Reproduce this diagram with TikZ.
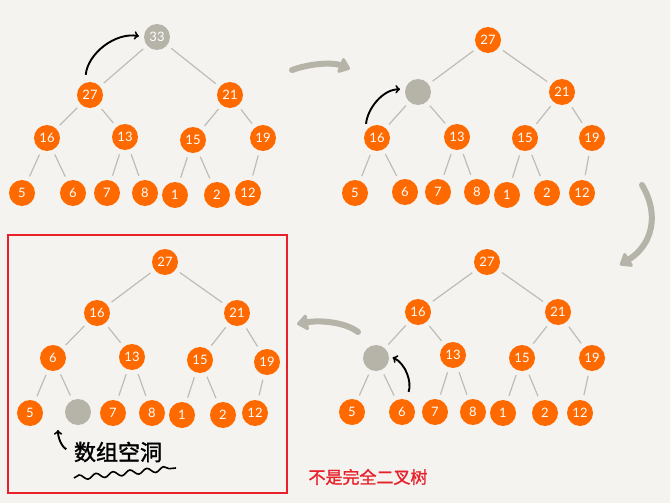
\documentclass[tikz,border=0pt]{standalone}
\usepackage{fontspec}
\setsansfont{Lato}
\newfontfamily\cjkfont{Noto Sans CJK SC}
\newfontfamily\cjkheavy[FakeBold=1.5]{Noto Sans CJK SC}
\usetikzlibrary{arrows.meta,decorations.pathmorphing}

\definecolor{paper}{HTML}{F4F3EF}
\definecolor{heaporange}{HTML}{FE6A00}
\definecolor{holegray}{HTML}{B6B3A9}
\definecolor{linegray}{HTML}{BDBCB5}
\definecolor{marker}{HTML}{E8202A}

\tikzset{
  key/.style={circle,fill=heaporange,text=white,minimum size=26pt,inner sep=0pt,
    font=\sffamily\fontsize{13}{13}\selectfont},
  hole/.style={key,fill=holegray},
  edge/.style={linegray,line width=1.2pt,shorten <=5pt,shorten >=5pt},
  move/.style={line width=1.9pt,-to,shorten <=3pt,shorten >=3pt},
  flow/.style={holegray,line width=6pt,line cap=round,
    -{Triangle[length=12pt,width=18pt,line width=3pt,round]}},
}

\begin{document}
\begin{tikzpicture}[x=1pt,y=-1pt]
  \fill[paper] (0,0) rectangle (670,503);
  \useasboundingbox (0,0) rectangle (670,503);

  \foreach \id/\x/\y/\v/\s in {1/157/37/33/hole,2/90/95/27/key,3/230/95/21/key,
      4/47/138/16/key,5/125/137/13/key,6/193/140/15/key,7/263/138/19/key,
      8/22/193/5/key,9/73/193/6/key,10/107/193/7/key,11/145/193/8/key,
      12/175/195/1/key,13/217/195/2/key,14/248/193/12/key}
    \node[\s] (a\id) at (\x,\y) {\v};

  \foreach \id/\x/\y/\v/\s in {1/488/40/27/key,2/418/92/{}/hole,3/562/92/21/key,
      4/377/138/16/key,5/457/137/13/key,6/525/138/15/key,7/592/138/19/key,
      8/355/193/5/key,9/405/192/6/key,10/438/192/7/key,11/477/192/8/key,
      12/507/195/1/key,13/547/193/2/key,14/582/193/12/key}
    \node[\s] (b\id) at (\x,\y) {\v};

  \foreach \id/\x/\y/\v/\s in {1/487/262/27/key,2/418/312/16/key,3/558/312/21/key,
      4/376/358/{}/hole,5/453/355/13/key,6/522/358/15/key,7/592/358/19/key,
      8/352/412/5/key,9/402/412/6/key,10/435/412/7/key,11/473/412/8/key,
      12/503/413/1/key,13/545/413/2/key,14/580/413/12/key}
    \node[\s] (c\id) at (\x,\y) {\v};

  \foreach \id/\x/\y/\v/\s in {1/165/262/27/key,2/97/313/16/key,3/237/313/21/key,
      4/53/358/6/key,5/132/357/13/key,6/200/360/15/key,7/267/362/19/key,
      8/30/413/5/key,9/78/412/{}/hole,10/113/413/7/key,11/152/413/8/key,
      12/182/415/1/key,13/223/415/2/key,14/255/413/12/key}
    \node[\s] (d\id) at (\x,\y) {\v};

  \foreach \t in {a,b,c,d}
    \foreach \p/\c in {1/2,1/3,2/4,2/5,3/6,3/7,4/8,4/9,5/10,5/11,6/12,6/13,7/14}
      \draw[edge] (\t\p) -- (\t\c);

  \draw[move,shorten <=8pt,shorten >=5pt] (a2.112) to[out=85,in=170] (a1.180);
  \draw[move,shorten <=8pt,shorten >=5pt] (b4.152) to[out=85,in=180] (b2.168);
  \draw[move,shorten <=8pt,shorten >=4pt] (c9.73) to[out=70,in=-25] (c4.10);

  \draw[flow] (292,70) .. controls (315,62) and (335,63) .. (350,69);
  \draw[flow] (642,185) .. controls (660,215) and (652,245) .. (620,265);
  \draw[flow] (358,332) .. controls (345,322) and (320,320) .. (297,324);

  \draw[marker,line width=1.5pt] (8,235) rectangle (287,493);
  \node[font=\cjkheavy\fontsize{22}{22}\selectfont,inner sep=0pt] (note) at (118,452) {数组空洞};
  \coordinate (hint) at (58,430);
  \draw[move,shorten <=8pt,shorten >=0pt] (note.west) to[out=160,in=-90] (hint);
  \draw[line width=1.6pt,decorate,decoration={snake,amplitude=2.5pt,segment length=17pt}]
    (74,478) -- (176,468);

  \node[text=marker,font=\cjkheavy\fontsize{17}{17}\selectfont] (verdict) at (368,477) {不是完全二叉树};
\end{tikzpicture}
\end{document}
